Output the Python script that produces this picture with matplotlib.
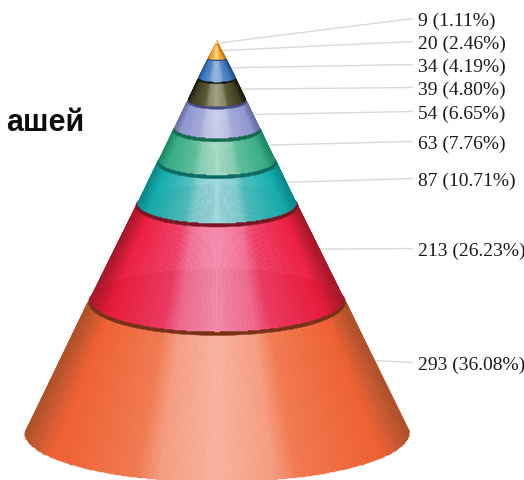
import numpy as np
import matplotlib
matplotlib.use("Agg")
import matplotlib.pyplot as plt
from matplotlib.patches import Ellipse
from matplotlib.colors import to_rgb

# top to bottom
values = [9, 20, 34, 39, 54, 63, 87, 213, 293]
labels = ["9 (1.11%)", "20 (2.46%)", "34 (4.19%)", "39 (4.80%)", "54 (6.65%)",
          "63 (7.76%)", "87 (10.71%)", "213 (26.23%)", "293 (36.08%)"]
# edge, body, soft, highlight colours of each layer
shades = [
    ("#e8c860", "#f4d870", "#f8e490", "#fdf0c0"),
    ("#c47a12", "#f39c1e", "#f6b040", "#f9d488"),
    ("#28528c", "#3c74bc", "#5b8cc8", "#9cb8dc"),
    ("#1c1c0e", "#414122", "#5c5c3a", "#a4a488"),
    ("#6a70a8", "#9098d0", "#a4aad8", "#cdd0ea"),
    ("#1e8a68", "#38ae86", "#62bf9e", "#a8dcc6"),
    ("#0a8a8a", "#16aeae", "#4cc0c0", "#a0dade"),
    ("#a8182a", "#ec1c3e", "#ee3c66", "#f38cae"),
    ("#b0512a", "#ee5c2e", "#f0784e", "#f8b29e"),
]
rims = ["#8a5a10", "#8a5a12", "#1c3a70", "#10100a", "#454c84",
        "#156a50", "#0e6a62", "#7e1422", "#7a3014"]
label_y = [21, 44, 67, 90, 114, 144, 181, 251, 365]
title_tail = "ашей"

W, H = 524, 481
CX, APEX, BASE, BASE_A, RATIO = 217, 42, 433, 192.5, 0.26
RIM = 3.5
K, PAD = 0.42, 6.0

fig = plt.figure(figsize=(W / 100, H / 100), dpi=100)
ax = fig.add_axes([0, 0, 1, 1])
ax.set_xlim(0, W)
ax.set_ylim(H, 0)
ax.axis("off")


def half_width(level):
    return BASE_A * (level - APEX) / (BASE - APEX)


heights = K * np.array(values, float) + PAD
heights[0] = K * values[0] * 0.8
levels = APEX + np.concatenate([[0], np.cumsum(heights)])
levels = APEX + (levels - APEX) * (BASE - APEX) / (levels[-1] - APEX)

theta = np.linspace(-np.pi / 2, np.pi / 2, 241)
u_edges = np.sin(theta)
u_mid = np.sin((theta[:-1] + theta[1:]) / 2)
stops = [0.0, 0.30, 0.42, 0.68, 0.86, 1.0]


def band_colors(c):
    e, b, s, h = [np.array(to_rgb(x)) for x in c]
    table = np.array([h, h * 0.6 + s * 0.4, s, b * 0.6 + s * 0.4, b, e])
    a = np.abs(u_mid)
    return np.stack([np.interp(a, stops, table[:, i]) for i in range(3)], axis=-1)


for i in range(len(values) - 1, -1, -1):
    top, bot = levels[i], levels[i + 1]
    if i < len(values) - 1:
        bot -= RIM * min(1.0, half_width(bot) / 60 + 0.25)
    at, ab = half_width(top), half_width(bot)
    xs = CX + np.vstack([at * u_edges, ab * u_edges])
    ys = np.vstack([top + at * RATIO * np.sqrt(1 - u_edges**2),
                    bot + ab * RATIO * np.sqrt(1 - u_edges**2)])
    cols = band_colors(shades[i])[None, :, :]
    ax.pcolormesh(xs, ys, cols, shading="flat", edgecolors="face",
                  linewidth=0.35, antialiased=True, zorder=2 + (len(values) - i) * 2)
    if i > 0:
        ax.add_patch(Ellipse((CX, top), 2 * at, 2 * at * RATIO, fc=rims[i], ec=rims[i],
                             lw=0.3, zorder=3 + (len(values) - i) * 2))

for i, (txt, ly) in enumerate(zip(labels, label_y)):
    mid = levels[i] + 0.45 * (levels[i + 1] - levels[i])
    if i == 0:
        mid = levels[1] - 1
    ax.plot([CX + half_width(mid) + 0.5, 413], [mid, ly - 1.5], color="#d9d9d9", lw=1.0,
            zorder=1, solid_capstyle="butt")
    ax.text(418, ly, txt, family="Liberation Serif", fontsize=14, color="#1a1a1a",
            ha="left", va="center")

ax.text(84, 131.5, title_tail, family="Liberation Sans", fontweight="bold", fontsize=22,
        color="#0c0c0c", ha="right", va="baseline")

fig.savefig("out.png", dpi=100)
